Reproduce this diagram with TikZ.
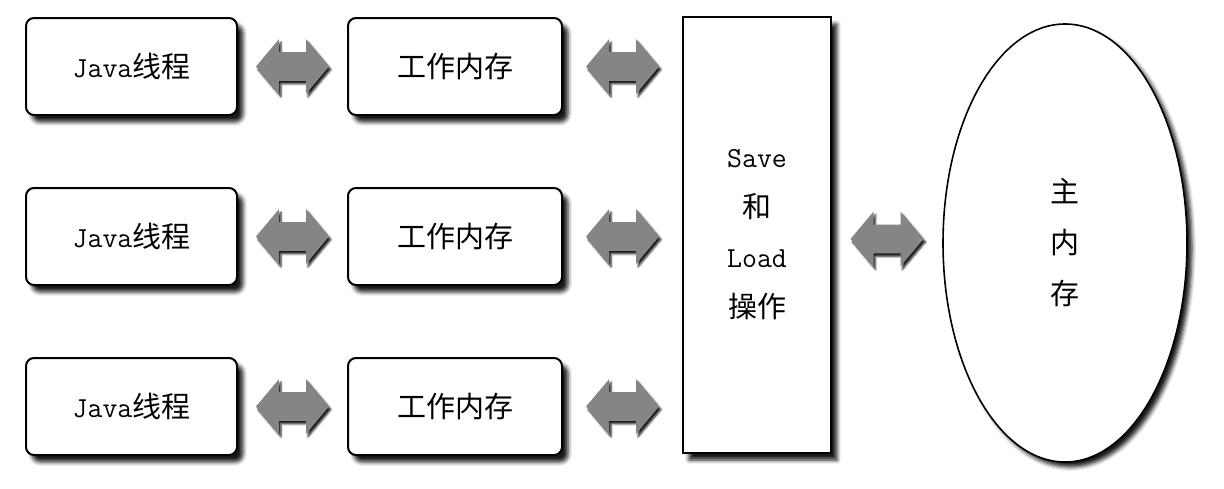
\documentclass[tikz,border=0pt]{standalone}
\usepackage{fontspec}
\newfontfamily\cjk{Noto Sans CJK SC}
\usetikzlibrary{
    shapes.geometric,
    shapes.arrows,
    shadows.blur,
    calc
}
\newcommand{\zhtext}[1]{{\cjk\fontsize{14.5pt}{16pt}\selectfont #1}}

\begin{document}
\begin{tikzpicture}[x=0.5pt, y=-0.5pt,
    softshadow/.style={blur shadow={shadow xshift=3pt, shadow yshift=-3.5pt, shadow blur radius=2pt, shadow opacity=90}},
    threadbox/.style={draw, line width=1pt, rounded corners=4pt, fill=white, inner sep=0pt,
        minimum height=48.5pt, font=\ttfamily\fontsize{14.5pt}{15pt}\selectfont, softshadow},
    opbox/.style={draw, line width=0.8pt, fill=white, inner sep=0pt, align=center,
        minimum width=74pt, minimum height=218pt, font=\ttfamily\fontsize{14.5pt}{25pt}\selectfont, softshadow},
    membubble/.style={ellipse, draw, line width=0.8pt, fill=white, inner sep=0pt, align=center,
        minimum width=122pt, minimum height=219pt, font=\fontsize{12.3pt}{25.5pt}\selectfont,
        blur shadow={shadow xshift=2.5pt, shadow yshift=-2.5pt, shadow blur radius=2pt, shadow opacity=90}},
    dblarrow/.style={double arrow, draw=none, fill=black!48, inner xsep=0pt, inner ysep=7pt,
        minimum height=36.5pt, minimum width=27pt, double arrow head extend=6.5pt, double arrow tip angle=100,
        blur shadow={shadow xshift=1pt, shadow yshift=-1.5pt, shadow blur radius=1pt, shadow opacity=90}}
]
    \useasboundingbox (0, 0) rectangle (1224, 488);

    % threads and their working memories
    \node[threadbox, minimum width=105.5pt] (thread1) at (131.5, 66.5) {Java\zhtext{线程}};
    \node[threadbox, minimum width=105.5pt] (thread2) at (131.5, 236.5) {Java\zhtext{线程}};
    \node[threadbox, minimum width=105.5pt] (thread3) at (131.5, 406.5) {Java\zhtext{线程}};

    \node[threadbox, minimum width=107pt] (work1) at (455, 66.5) {\zhtext{工作内存}};
    \node[threadbox, minimum width=107pt] (work2) at (455, 236.5) {\zhtext{工作内存}};
    \node[threadbox, minimum width=107pt] (work3) at (455, 406.5) {\zhtext{工作内存}};

    % save / load and main memory
    \node[opbox] (saveload) at (757, 235) {Save\\\zhtext{和}\\Load\\\zhtext{操作}};
    \node[membubble] (mainmem) at (1065, 243) {\zhtext{主}\\\zhtext{内}\\\zhtext{存}};

    % block arrows between the boxes
    \node[dblarrow] (link1) at ($(thread1.east)!0.5!(work1.west)$) {};
    \node[dblarrow] (link2) at ($(thread2.east)!0.5!(work2.west)$) {};
    \node[dblarrow] (link3) at ($(thread3.east)!0.5!(work3.west)$) {};

    \node[dblarrow] (link4) at ($(work1.east)!0.5!(saveload.west |- work1.west)$) {};
    \node[dblarrow] (link5) at ($(work2.east)!0.5!(saveload.west |- work2.west)$) {};
    \node[dblarrow] (link6) at ($(work3.east)!0.5!(saveload.west |- work3.west)$) {};

    \node[dblarrow] (link7) at ($(saveload.east)!0.5!(mainmem.west)$) {};
\end{tikzpicture}
\end{document}
